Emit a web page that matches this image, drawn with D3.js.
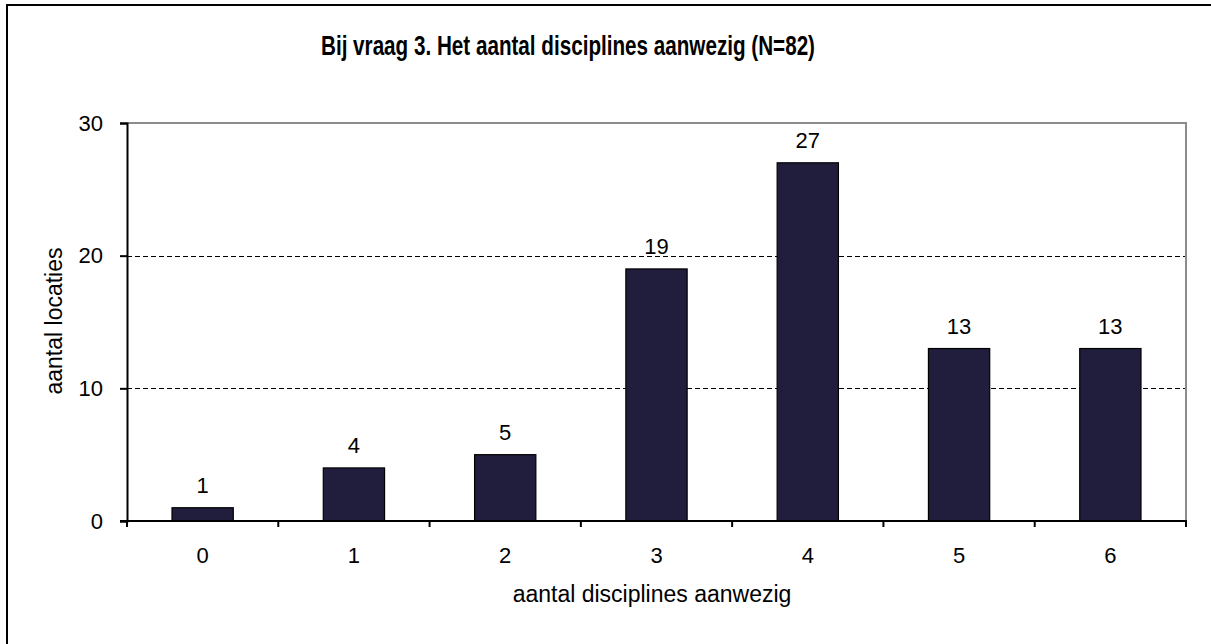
<!DOCTYPE html>
<html>
<head>
<meta charset="utf-8">
<script src="https://cdn.jsdelivr.net/npm/d3@7"></script>
<style>
  body { margin: 0; background: #fff; }
  svg text { font-family: "Liberation Sans", Arial, sans-serif; fill: #000; }
</style>
</head>
<body>
<div id="chart"></div>
<script>
var W = 1211,
	H = 644,
	m = {left: 127, top: 123, right: 1186, bottom: 521};

var categories = ['0', '1', '2', '3', '4', '5', '6'],
	values = [1, 4, 5, 19, 27, 13, 13],
	yTicks = [0, 10, 20, 30];

var title = 'Bij vraag 3. Het aantal disciplines aanwezig (N=82)',
	xTitle = 'aantal disciplines aanwezig',
	yTitle = 'aantal locaties';

var svg = d3.select('#chart').append('svg')
	.attr('width', W)
	.attr('height', H);

// outer chart frame (runs off the right and bottom edge)
svg.append('rect')
	.attr('x', 7).attr('y', 5)
	.attr('width', 1230).attr('height', 680)
	.attr('fill', '#fff')
	.attr('stroke', '#000')
	.attr('stroke-width', 2);

var x = d3.scaleBand()
	.domain(categories)
	.range([m.left, m.right])
	.paddingInner(0.595)
	.paddingOuter(0.2975);

var y = d3.scaleLinear()
	.domain([0, 30])
	.range([m.bottom, m.top]);

var band = (m.right - m.left) / categories.length;

// plot border, top and right in grey
svg.append('path')
	.attr('d', 'M' + m.left + ',' + m.top + 'H' + m.right + 'V' + m.bottom)
	.attr('fill', 'none')
	.attr('stroke', '#8c8c8c')
	.attr('stroke-width', 2);

// dashed gridlines
svg.selectAll('line.grid')
	.data(yTicks.filter(function(d) { return d > 0 && d < 30 }))
	.enter().append('line')
	.attr('class', 'grid')
	.attr('x1', m.left).attr('x2', m.right - 1)
	.attr('y1', function(d) { return Math.round(y(d)) + 0.5 })
	.attr('y2', function(d) { return Math.round(y(d)) + 0.5 })
	.attr('stroke', '#000')
	.attr('stroke-dasharray', '5,3');

// bars
svg.selectAll('rect.bar')
	.data(values)
	.enter().append('rect')
	.attr('class', 'bar')
	.attr('x', function(d, i) { return x(categories[i]) })
	.attr('y', function(d) { return y(d) })
	.attr('width', x.bandwidth())
	.attr('height', function(d) { return m.bottom - y(d) })
	.attr('fill', '#201e3c')
	.attr('stroke', '#000')
	.attr('stroke-width', 1.2);

// value labels
svg.selectAll('text.val')
	.data(values)
	.enter().append('text')
	.attr('class', 'val')
	.attr('x', function(d, i) { return x(categories[i]) + x.bandwidth() / 2 })
	.attr('y', function(d) { return y(d) - 15 })
	.attr('text-anchor', 'middle')
	.attr('font-size', 22)
	.text(function(d) { return d });

// y axis
var yAxis = svg.append('g')
	.attr('transform', 'translate(' + m.left + ',0)')
	.call(d3.axisLeft(y).tickValues(yTicks).tickSize(7).tickPadding(17));
yAxis.select('.domain').attr('stroke', '#000').attr('stroke-width', 2);
yAxis.selectAll('.tick line').attr('stroke', '#000').attr('stroke-width', 2);
yAxis.selectAll('text')
	.attr('font-size', 22)
	.attr('font-family', '"Liberation Sans", Arial, sans-serif')
	.attr('fill', '#000');

// x axis: ticks sit between categories
var xg = svg.append('g');
xg.append('line')
	.attr('x1', m.left - 7).attr('x2', m.right + 1)
	.attr('y1', m.bottom).attr('y2', m.bottom)
	.attr('stroke', '#000').attr('stroke-width', 2);
xg.selectAll('line.xt')
	.data(d3.range(categories.length + 1))
	.enter().append('line')
	.attr('class', 'xt')
	.attr('x1', function(i) { return m.left + i * band })
	.attr('x2', function(i) { return m.left + i * band })
	.attr('y1', m.bottom).attr('y2', m.bottom + 6)
	.attr('stroke', '#000').attr('stroke-width', 2);
xg.selectAll('text')
	.data(categories)
	.enter().append('text')
	.attr('x', function(d) { return x(d) + x.bandwidth() / 2 })
	.attr('y', 563)
	.attr('text-anchor', 'middle')
	.attr('font-size', 22)
	.text(function(d) { return d });

// titles
svg.append('text')
	.attr('x', 568).attr('y', 55)
	.attr('text-anchor', 'middle')
	.attr('font-size', 27)
	.attr('font-weight', 'bold')
	.attr('textLength', 494)
	.attr('lengthAdjust', 'spacingAndGlyphs')
	.text(title);

svg.append('text')
	.attr('x', 652).attr('y', 602)
	.attr('text-anchor', 'middle')
	.attr('font-size', 23)
	.text(xTitle);

svg.append('text')
	.attr('transform', 'translate(62,321) rotate(-90)')
	.attr('text-anchor', 'middle')
	.attr('font-size', 23)
	.text(yTitle);
</script>
</body>
</html>
